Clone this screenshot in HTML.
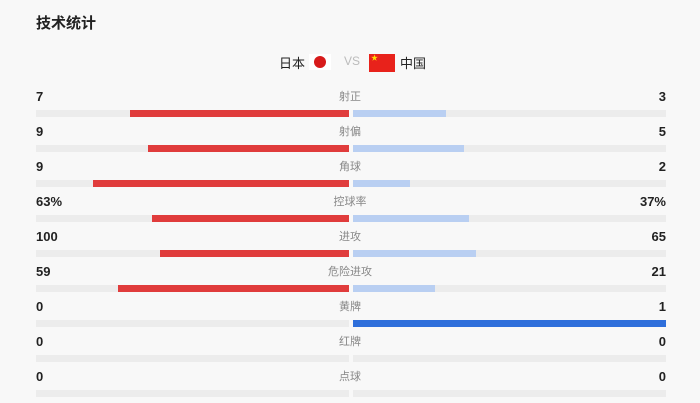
<!DOCTYPE html>
<html><head><meta charset="utf-8"><style>
body{margin:0;width:700px;height:403px;background:#f8f8f8;font-family:"Liberation Sans","Noto Sans CJK SC",sans-serif;position:relative;overflow:hidden}
.a{position:absolute}
.n{position:absolute;font-size:13px;font-weight:bold;color:#222;line-height:14px}
.l{position:absolute;left:300px;width:100px;text-align:center;font-size:11px;color:#888;line-height:12px}
.t{position:absolute;height:7px;background:#ececec}
</style></head><body>
<div class="a" style="left:36px;top:12px;font-size:15px;font-weight:bold;color:#222">技术统计</div>
<div class="a" style="left:279px;top:53px;font-size:13px;color:#222">日本</div>
<div class="a" style="left:309px;top:54px;width:22px;height:16px;background:#fff"></div>
<div class="a" style="left:314px;top:56px;width:12px;height:12px;border-radius:50%;background:#d71a1a"></div>
<div class="a" style="left:344px;top:54px;font-size:12px;color:#bbb">VS</div>
<div class="a" style="left:369px;top:54px;width:26px;height:18px;background:#e8221b;color:#ffde00;font-size:7px;line-height:9px">&nbsp;★</div>
<div class="a" style="left:400px;top:53px;font-size:13px;color:#222">中国</div>
<div id="rows"></div>
<script>
var d=[["7","3","射正",130,446],["9","5","射偏",148,464],["9","2","角球",93,410],["63%","37%","控球率",152,469],["100","65","进攻",160,476],["59","21","危险进攻",118,435],["0","1","黄牌",349,666],["0","0","红牌",349,353],["0","0","点球",349,353]];
var h="";
d.forEach(function(r,i){var y=90+i*35,b=110+i*35;
h+='<div class="n" style="left:36px;top:'+y+'px">'+r[0]+'</div>';
h+='<div class="n" style="right:34px;top:'+y+'px">'+r[1]+'</div>';
h+='<div class="l" style="top:'+(y+1)+'px">'+r[2]+'</div>';
h+='<div class="t" style="left:36px;top:'+b+'px;width:313px"></div>';
h+='<div class="t" style="left:353px;top:'+b+'px;width:313px"></div>';
if(r[3]<349)h+='<div class="t" style="left:'+r[3]+'px;top:'+b+'px;width:'+(349-r[3])+'px;background:#e03c3c"></div>';
if(r[4]>353)h+='<div class="t" style="left:353px;top:'+b+'px;width:'+(r[4]-353)+'px;background:'+(i==6?'#2f6fdb':'#b9cff2')+'"></div>';
});
document.getElementById("rows").innerHTML=h;
</script>
</body></html>
